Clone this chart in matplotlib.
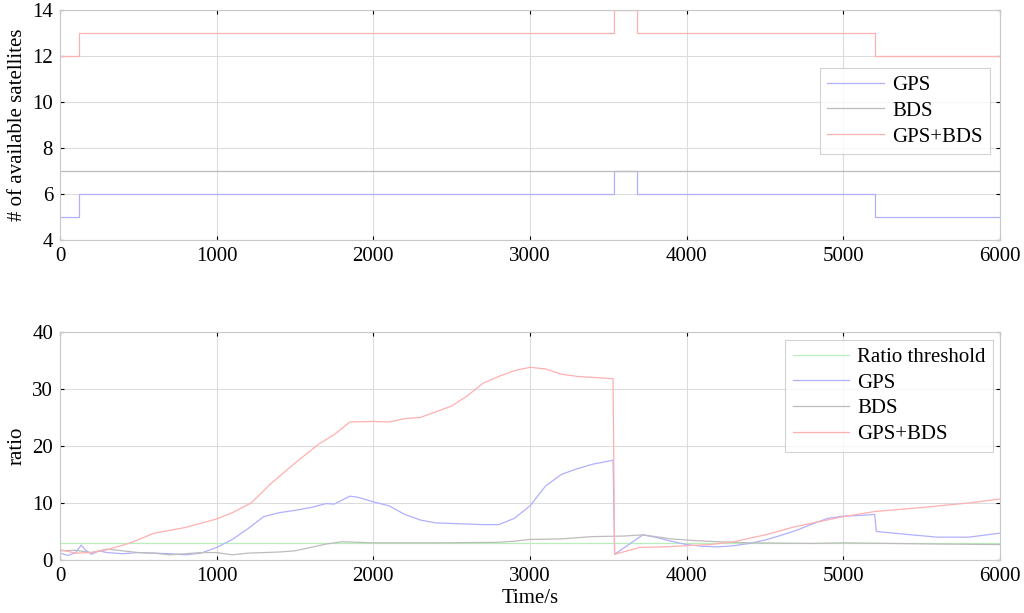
import matplotlib
matplotlib.use('Agg')
from matplotlib import pyplot as plt

plt.rcParams['font.family'] = ['Liberation Serif', 'DejaVu Serif']
plt.rcParams['font.size'] = 15

# top panel: number of available satellites (step series)
sat_t = [0, 120, 3535, 3685, 5205, 6000]
sat_gps = [5, 6, 7, 6, 5, 5]
sat_bds = [7, 7, 7, 7, 7, 7]
sat_all = [12, 13, 14, 13, 12, 12]

# bottom panel: ratio values
thr_t = [0, 6000]
thr_val = [3, 3]

gps_t = [0, 50, 100, 135, 160, 200, 250, 300, 400, 500, 600, 700, 800, 900,
         1000, 1100, 1200, 1300, 1400, 1500, 1600, 1700, 1750, 1800, 1850, 1900,
         2000, 2100, 2200, 2300, 2400, 2500, 2600, 2700, 2800, 2900, 3000, 3100,
         3200, 3300, 3400, 3530, 3540, 3720, 3800, 3900, 4000, 4100, 4200, 4300,
         4400, 4500, 4600, 4700, 4800, 4900, 5000, 5100, 5200, 5210, 5400, 5600,
         5800, 6000]
gps_val = [1.2, 0.8, 1.3, 2.6, 1.8, 1.0, 1.6, 1.3, 1.1, 1.3, 1.2, 1.1, 0.9, 1.2,
           2.2, 3.6, 5.5, 7.6, 8.3, 8.7, 9.2, 9.9, 9.8, 10.5, 11.2, 11.0,
           10.2, 9.5, 8.0, 7.0, 6.5, 6.4, 6.3, 6.2, 6.2, 7.3, 9.5, 13.0,
           15.0, 16.0, 16.8, 17.5, 1.0, 4.4, 4.0, 3.3, 2.7, 2.4, 2.3, 2.5,
           2.9, 3.5, 4.3, 5.2, 6.3, 7.3, 7.7, 7.8, 8.0, 5.0, 4.5, 4.0,
           4.0, 4.7]

bds_t = [0, 100, 200, 300, 400, 500, 600, 700, 800, 900, 1000, 1100, 1200,
         1300, 1400, 1500, 1600, 1700, 1800, 1900, 2000, 2400, 2800, 2900, 3000,
         3200, 3400, 3600, 3720, 3800, 3900, 4050, 4200, 4400, 4800, 5000, 5600,
         6000]
bds_val = [1.6, 1.7, 1.3, 1.9, 1.6, 1.3, 1.2, 0.9, 1.1, 1.3, 1.3, 0.9, 1.2,
           1.3, 1.4, 1.6, 2.2, 2.8, 3.2, 3.1, 3.0, 3.0, 3.1, 3.3, 3.6,
           3.7, 4.1, 4.2, 4.4, 4.1, 3.7, 3.4, 3.2, 3.0, 2.9, 3.0, 2.8,
           2.7]

all_t = [0, 100, 200, 300, 450, 600, 800, 1000, 1100, 1220, 1350, 1500, 1650,
         1750, 1850, 2000, 2100, 2200, 2300, 2400, 2500, 2600, 2700, 2800, 2900,
         3000, 3100, 3200, 3300, 3530, 3540, 3700, 3850, 4000, 4150, 4300, 4500,
         4700, 5000, 5200, 5500, 5800, 6000]
all_val = [1.8, 1.2, 1.3, 1.8, 3.0, 4.7, 5.7, 7.2, 8.3, 10.0, 13.5, 17.0, 20.3,
           22.0, 24.2, 24.3, 24.2, 24.8, 25.0, 26.0, 27.0, 28.8, 31.0, 32.2, 33.2,
           33.8, 33.5, 32.6, 32.2, 31.8, 1.0, 2.2, 2.3, 2.5, 2.7, 3.2, 4.4,
           5.9, 7.6, 8.5, 9.2, 10.0, 10.7]

c_gps = '#b0b0ff'
c_bds = '#bcbcbc'
c_all = '#ffb0b0'
c_thr = '#b8f0b8'


def style(ax):
    ax.grid(True, color='#dcdcdc', linewidth=0.8)
    for s in ax.spines.values():
        s.set_color('#c8c8c8')
    ax.tick_params(direction='in', length=3, color='black', top=True, right=True,
                   labelsize=15, pad=5)


def legend(ax, anchor):
    leg = ax.legend(loc='upper right', bbox_to_anchor=anchor, frameon=True,
                    fancybox=False, handlelength=2.7, borderpad=0.35,
                    labelspacing=0.3, handletextpad=0.4, borderaxespad=0,
                    fontsize=15)
    leg.get_frame().set_edgecolor('#c8c8c8')
    leg.get_frame().set_linewidth(0.8)
    return leg


fig = plt.figure(figsize=(10.24, 6.13), dpi=100)
ax1 = fig.add_axes([0.0586, 0.6085, 0.918, 0.375])
ax2 = fig.add_axes([0.0586, 0.0865, 0.918, 0.372])

ax1.step(sat_t, sat_gps, where='post', color=c_gps, lw=0.9, label='GPS')
ax1.step(sat_t, sat_bds, where='post', color=c_bds, lw=0.9, label='BDS')
ax1.step(sat_t, sat_all, where='post', color=c_all, lw=0.9, label='GPS+BDS')
ax1.set_xlim(0, 6000)
ax1.set_ylim(4, 14)
ax1.set_xticks(range(0, 6001, 1000))
ax1.set_yticks(range(4, 15, 2))
ax1.set_ylabel('# of available satellites')
style(ax1)
legend(ax1, (0.989, 0.748))

ax2.plot(thr_t, thr_val, color=c_thr, lw=0.9, label='Ratio threshold')
ax2.plot(gps_t, gps_val, color=c_gps, lw=0.9, label='GPS')
ax2.plot(bds_t, bds_val, color=c_bds, lw=0.9, label='BDS')
ax2.plot(all_t, all_val, color=c_all, lw=0.9, label='GPS+BDS')
ax2.set_xlim(0, 6000)
ax2.set_ylim(0, 40)
ax2.set_xticks(range(0, 6001, 1000))
ax2.set_yticks(range(0, 41, 10))
ax2.set_ylabel('ratio')
ax2.set_xlabel('Time/s', labelpad=2)
style(ax2)
legend(ax2, (0.9926, 0.965))

fig.savefig('out.png', dpi=100)
